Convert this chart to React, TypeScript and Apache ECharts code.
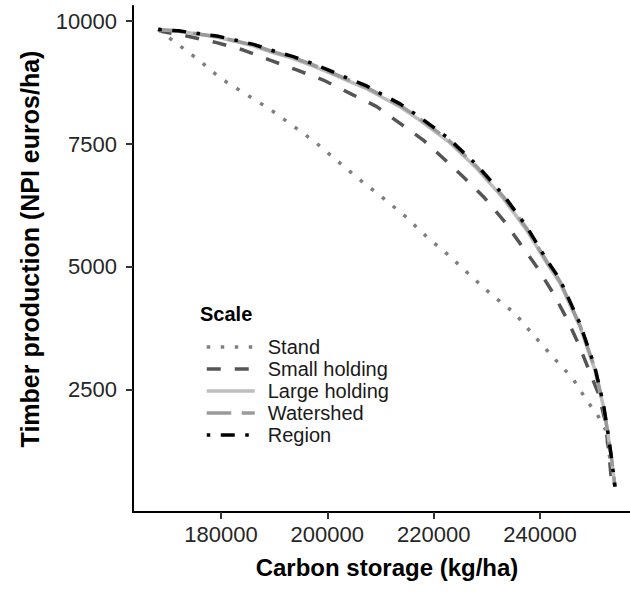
import React, { useEffect, useRef } from "react";
import * as echarts from "echarts";

const seriesNames = ["Stand", "Small holding", "Large holding", "Watershed", "Region"];
const xTicks = [180000, 200000, 220000, 240000];
const yTicks = [2500, 5000, 7500, 10000];

const stand: [number, number][] = [
  [168200, 9830], [169980, 9680], [175860, 9205], [179940, 8835], [184650, 8515],
  [189160, 8210], [193540, 7870], [197870, 7525], [202060, 7140], [206140, 6770],
  [210530, 6400], [214610, 6035], [218690, 5615], [222750, 5245], [226830, 4835],
  [230970, 4430], [235240, 4060], [238740, 3620], [242390, 3175], [246150, 2735],
  [249080, 2240], [250660, 2025], [252300, 1700], [253300, 1000], [254100, 535],
];

const smallHolding: [number, number][] = [
  [168200, 9830], [169150, 9780], [173550, 9695], [179190, 9560], [184200, 9410],
  [189220, 9205], [194240, 9005], [199240, 8800], [204260, 8530], [209290, 8260],
  [213670, 7920], [218050, 7580], [221810, 7210], [225890, 6800], [229650, 6395],
  [233100, 5955], [236240, 5480], [239380, 5005], [242500, 4465], [245020, 3955],
  [247200, 3450], [249080, 2940], [250960, 2435], [252220, 1890], [252980, 1215],
  [253480, 605], [254100, 535],
];

const largeHolding: [number, number][] = [
  [168200, 9830], [172000, 9790], [175400, 9735], [179200, 9675], [182600, 9590],
  [186100, 9495], [189800, 9360], [193600, 9235], [197100, 9095], [200500, 8945],
  [203900, 8785], [207400, 8625], [210500, 8440], [213700, 8255], [216800, 8030],
  [222800, 7550], [228100, 7005], [233100, 6395], [237500, 5750], [241300, 5075],
  [243800, 4670], [247500, 3790], [250300, 2920], [251900, 2180], [252800, 1590],
  [253500, 1060], [254100, 535],
];

const watershed: [number, number][] = [
  [168200, 9830], [172000, 9795], [175400, 9742], [179200, 9685], [182600, 9600],
  [186100, 9510], [189800, 9378], [193600, 9255], [197100, 9118], [200500, 8968],
  [203900, 8810], [207400, 8652], [210500, 8468], [213700, 8285], [216800, 8060],
  [222800, 7582], [228100, 7040], [233100, 6430], [237500, 5785], [241300, 5108],
  [243800, 4702], [247500, 3822], [250300, 2946], [251900, 2205], [252800, 1605],
  [253500, 1070], [254100, 535],
];

const region: [number, number][] = [
  [168200, 9830], [172000, 9800], [175400, 9750], [179200, 9695], [182600, 9615],
  [186100, 9525], [189800, 9395], [193600, 9275], [197100, 9140], [200500, 8990],
  [203900, 8835], [207400, 8680], [210500, 8495], [213700, 8315], [216800, 8090],
  [222800, 7615], [228100, 7075], [233100, 6465], [237500, 5820], [241300, 5140],
  [243800, 4735], [247500, 3855], [250300, 2975], [251900, 2230], [252800, 1620],
  [253500, 1080], [254100, 535],
];

const seriesData = [stand, smallHolding, largeHolding, watershed, region];
const seriesColors = ["#7f7f7f", "#555555", "#bdbdbd", "#9a9a9a", "#000000"];
const W = 3.5;
const seriesDash: any[] = [
  [W, 3 * W],
  [4 * W, 4 * W],
  "solid",
  [7 * W, 3 * W],
  [W, 3 * W, 4 * W, 3 * W],
];

const FONT = '"Liberation Sans", Arial, sans-serif';

export default function App() {
  const ref = useRef<HTMLDivElement>(null);
  useEffect(() => {
    if (!ref.current) return;
    const chart = echarts.init(ref.current, null, { renderer: "svg" });
    const axisCommon = {
      type: "value" as const,
      splitLine: { show: false },
      axisLine: { show: true, lineStyle: { color: "#000", width: 2 } },
      axisTick: { show: true, length: 7, lineStyle: { color: "#333", width: 2 } },
    };
    chart.setOption({
      animation: false,
      textStyle: { fontFamily: FONT },
      grid: { left: 133, right: 0, top: 6, bottom: 80, containLabel: false },
      xAxis: {
        ...axisCommon,
        min: 163450,
        max: 256930,
        axisTick: { ...axisCommon.axisTick, customValues: xTicks },
        axisLabel: {
          customValues: xTicks,
          formatter: (v: number) => String(v),
          fontSize: 22,
          color: "#262626",
          margin: 11,
          fontFamily: FONT,
        },
        name: "Carbon storage (kg/ha)",
        nameLocation: "middle",
        nameGap: 43,
        nameTextStyle: {
          fontSize: 24,
          fontWeight: "bold",
          color: "#000",
          fontFamily: FONT,
          padding: [0, 0, 0, 11],
        },
      },
      yAxis: {
        ...axisCommon,
        min: 20,
        max: 10305,
        axisTick: { ...axisCommon.axisTick, customValues: yTicks },
        axisLabel: {
          customValues: yTicks,
          formatter: (v: number) => String(v),
          fontSize: 22,
          color: "#262626",
          margin: 16,
          fontFamily: FONT,
        },
        name: "Timber production (NPI euros/ha)",
        nameLocation: "middle",
        nameGap: 91,
        nameTextStyle: {
          fontSize: 25,
          fontWeight: "bold",
          color: "#000",
          fontFamily: FONT,
          padding: [0, 0, 0, 20],
        },
      },
      legend: {
        orient: "vertical",
        left: 205,
        top: 336,
        padding: 0,
        itemWidth: 48,
        itemHeight: 14,
        itemGap: 0,
        data: seriesNames,
        itemStyle: { opacity: 0 },
        lineStyle: { width: W, cap: "butt" },
        textStyle: { fontSize: 20, color: "#1a1a1a", lineHeight: 22, padding: [0, 0, 0, 8], fontFamily: FONT },
      },
      graphic: [
        {
          type: "text",
          left: 200,
          top: 304,
          style: { text: "Scale", font: `bold 20px ${FONT}`, fill: "#000" },
        },
      ],
      series: seriesNames.map((name, i) => ({
        name,
        type: "line",
        data: seriesData[i],
        symbol: "none",
        showSymbol: false,
        smooth: false,
        emphasis: { disabled: true },
        color: seriesColors[i],
        lineStyle: { color: seriesColors[i], width: W, type: seriesDash[i], cap: "butt" },
        z: 2 + i,
      })),
    });
    return () => chart.dispose();
  }, []);
  return (
    <div style={{ position: "fixed", left: 0, top: 0, width: 630, height: 592, background: "#fff" }}>
      <div ref={ref} style={{ width: 630, height: 592 }} />
    </div>
  );
}
